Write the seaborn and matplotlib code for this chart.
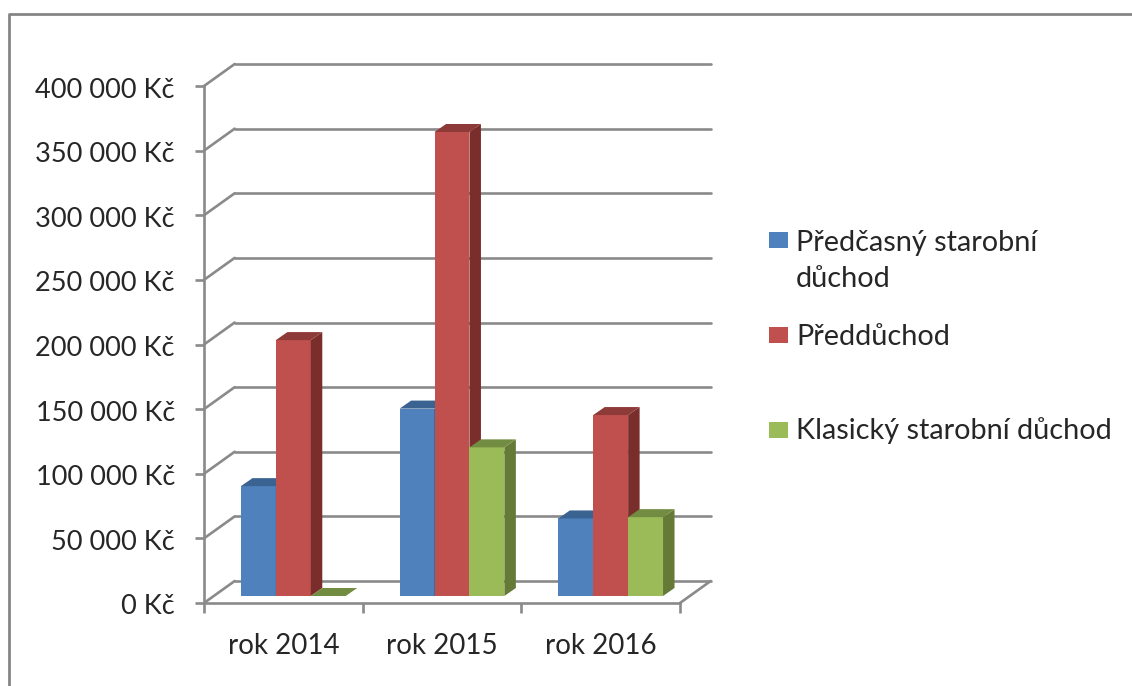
import pandas as pd
import matplotlib.pyplot as plt
import seaborn as sns
from matplotlib.lines import Line2D
from matplotlib.patches import Polygon, Rectangle
from matplotlib.transforms import Affine2D

sns.set_style('white')
plt.rcParams['font.family'] = ['Lato', 'DejaVu Sans']

# values
years = ['rok 2014', 'rok 2015', 'rok 2016']
predcasny = [85000, 145000, 60000]
predduchod = [198000, 359000, 140000]
klasicky = [0, 115000, 61000]
series_names = ['Předčasný starobní důchod', 'Předdůchod', 'Klasický starobní důchod']
legend_labels = ['Předčasný starobní\ndůchod', 'Předdůchod', 'Klasický starobní důchod']
y_ticks = [0, 50000, 100000, 150000, 200000, 250000, 300000, 350000, 400000]
y_labels = ['0 Kč', '50 000 Kč', '100 000 Kč', '150 000 Kč', '200 000 Kč',
            '250 000 Kč', '300 000 Kč', '350 000 Kč', '400 000 Kč']

front_colors = ['#4F81BD', '#C0504D', '#9BBB59']
top_colors = ['#3A6391', '#8E3A38', '#728C42']
side_colors = ['#2F5079', '#7A2E2C', '#667A38']
GRID = '#8A8A8A'
TEXT = '#262626'
LW = 1.9

W, H = 1132, 686
fig = plt.figure(figsize=(W / 100, H / 100), dpi=100)
fig.patch.set_facecolor('white')


def px_axes(left, bottom_y, width, height, **kw):
    # axes placed by picture pixels (y counted from the top)
    return fig.add_axes([left / W, (H - bottom_y) / H, width / W, height / H], **kw)


df = pd.DataFrame({
    'rok': years * 3,
    'castka': predcasny + predduchod + klasicky,
    'druh': [n for n in series_names for _ in years],
})

# ---- back wall: only the gridlines
ax_wall = px_axes(234.7, 581, 476, 517)
ax_wall.set_xlim(-0.5, 2.5)
ax_wall.set_ylim(0, 400000)
ax_wall.set_yticks(y_ticks)
ax_wall.set_xticks([])
ax_wall.tick_params(left=False, labelleft=False)
ax_wall.grid(axis='y', color=GRID, linewidth=LW)
ax_wall.set_axisbelow(True)
sns.despine(ax=ax_wall, left=True, bottom=True)
for line in ax_wall.get_ygridlines():
    line.set_clip_on(False)

# ---- bars stand a little in front of the wall
ax_bars = px_axes(214, 596, 476, 517)
ax_bars.patch.set_alpha(0)
sns.barplot(data=df, x='rok', y='castka', hue='druh', hue_order=series_names,
            palette=front_colors, saturation=1, width=0.66, gap=0, legend=False,
            ax=ax_bars)
ax_bars.set_xlim(-0.5, 2.5)
ax_bars.set_ylim(0, 400000)

depth_x = 11.5 / 158.7
depth_y = 8 / 517 * 400000
for i, container in enumerate(ax_bars.containers):
    for bar in container:
        x0, w, h = bar.get_x(), bar.get_width(), bar.get_height()
        x1 = x0 + w
        bar.set_zorder(3 + i)
        bar.set_linewidth(0)
        bar.set_clip_on(False)
        top = Polygon([(x0, h), (x1, h), (x1 + depth_x, h + depth_y), (x0 + depth_x, h + depth_y)],
                      closed=True, facecolor=top_colors[i], edgecolor='none',
                      zorder=3 + i, clip_on=False)
        side = Polygon([(x1, 0), (x1 + depth_x, depth_y), (x1 + depth_x, h + depth_y), (x1, h)],
                       closed=True, facecolor=side_colors[i], edgecolor='none',
                       zorder=3 + i, clip_on=False)
        ax_bars.add_patch(side)
        ax_bars.add_patch(top)
ax_bars.set_axis_off()

# ---- front plane: axis lines, ticks, labels, floor and wall diagonals
ax_front = px_axes(204, 603, 476, 517)
ax_front.patch.set_alpha(0)
ax_front.set_xlim(-0.5, 2.5)
ax_front.set_ylim(0, 400000)
ax_front.set_yticks(y_ticks)
ax_front.set_yticklabels(y_labels)
ax_front.set_xticks([-0.5, 0.5, 1.5, 2.5])
ax_front.set_xticklabels([])
ax_front.set_xticks([0, 1, 2], labels=years, minor=True)
ax_front.tick_params(axis='y', left=True, length=6.5, width=LW, color=GRID, pad=14.4,
                     labelsize=19.5, labelcolor=TEXT)
ax_front.tick_params(axis='x', which='major', length=7.2, width=LW, color=GRID, bottom=True)
ax_front.tick_params(axis='x', which='minor', length=0, pad=21.5, labelsize=20, labelcolor=TEXT)
sns.despine(ax=ax_front)
for name in ['left', 'bottom']:
    ax_front.spines[name].set_color(GRID)
    ax_front.spines[name].set_linewidth(LW)

# y labels sit a touch lower than the tick marks
for label in ax_front.get_yticklabels():
    label.set_transform(label.get_transform() + Affine2D().translate(0, -1.5))

wall_x = 30.7 / 158.7
wall_y = 22 / 517 * 400000
for v in y_ticks:
    ax_front.plot([-0.5, -0.5 + wall_x], [v, v + wall_y], color=GRID, lw=LW,
                  clip_on=False, solid_capstyle='round', zorder=1)
ax_front.plot([2.5, 2.5 + wall_x], [0, wall_y], color=GRID, lw=LW, clip_on=False, zorder=1)

# ---- legend
swatch_y = [240, 335, 430]
text_y = [261, 337, 431]
for color, label, sy, ty in zip(front_colors, legend_labels, swatch_y, text_y):
    fig.add_artist(Rectangle((769 / W, (H - sy - 8) / H), 18.5 / W, 16 / H, facecolor=color,
                             edgecolor='none', transform=fig.transFigure))
    fig.text(796 / W, (H - ty) / H, label, fontsize=20.8, color=TEXT, va='center', ha='left',
             linespacing=1.5)

# ---- chart frame, runs off the right and bottom of the picture
fig.add_artist(Line2D([9 / W, 9 / W, 1], [0, (H - 14) / H, (H - 14) / H], color='#858585', lw=2,
                      transform=fig.transFigure))

plt.savefig('out.png', dpi=100)
plt.close()
